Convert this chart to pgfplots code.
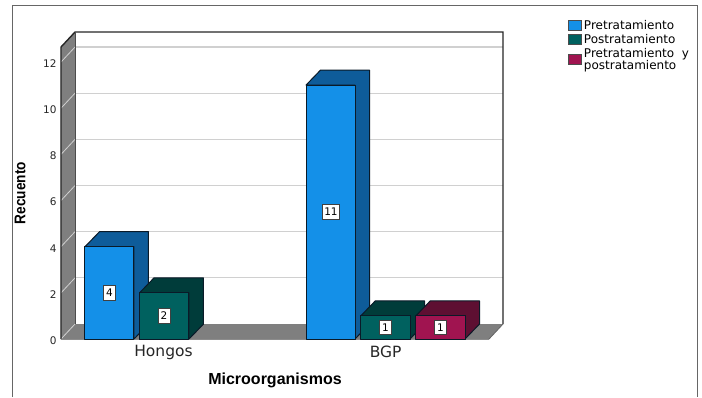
\documentclass[border=0pt]{standalone}
\usepackage{pgfplots}
\pgfplotsset{compat=1.18}
\usepackage{fontspec}
\setmainfont{DejaVu Sans}
\newfontfamily\labelfont{Liberation Sans}
\newfontfamily\narrowfont[FakeStretch=0.88]{Liberation Sans}
\definecolor{blueF}{HTML}{1490E8}
\definecolor{blueD}{HTML}{0E5C9A}
\definecolor{tealF}{HTML}{00615F}
\definecolor{tealD}{HTML}{003C3A}
\definecolor{magF}{HTML}{A01450}
\definecolor{magD}{HTML}{5E0F32}
\definecolor{wall}{HTML}{7F7F7F}
\definecolor{gridc}{HTML}{D0D0D0}
\definecolor{edge}{HTML}{0A1A28}
% One block: left x, right x, value, front colour, side and top colour
\newcommand{\block}[5]{%
  \addplot[forget plot,draw=edge,line width=1pt,fill=#5,line join=round]
    coordinates {(#2,0) (#2+14.5,0.65) (#2+14.5,#3+0.65) (#1+14.5,#3+0.65) (#1,#3) (#2,#3)} -- cycle;
  \addplot[forget plot,draw=edge,line width=1pt,fill=#4,line join=round]
    coordinates {(#1,0) (#2,0) (#2,#3) (#1,#3)} -- cycle;
}
\newcommand{\tag}[3]{%
  \node[draw=black!75,fill=white,line width=0.8pt,inner sep=1.6pt,minimum width=12pt,minimum height=14.5pt,
        font=\fontsize{10.5}{11}\selectfont] at (axis cs:#1,#2) {#3};
}
\begin{document}
\begin{tikzpicture}[x=1pt,y=1pt]
\begin{axis}[
  scale only axis,width=428pt,height=292pt,
  xmin=61,xmax=489,ymin=0,ymax=12.65,
  clip=false,axis line style={draw=none},
  major tick length=0pt,
  xtick={163.5,385.7},xticklabels={Hongos,BGP},
  ytick={0,2,4,6,8,10,12},
  tick label style={text=black!85},
  x tick label style={font=\fontsize{15.5}{17}\selectfont,yshift=-3pt},
  y tick label style={font=\fontsize{10.5}{12}\selectfont,xshift=-1pt,yshift=-1.5pt},
  /pgf/number format/assume math mode=true,
  xlabel={Microorganismos},ylabel={Recuento},
  xlabel style={at={(axis description cs:0.5,-0.14)},anchor=center,
                font=\labelfont\bfseries\fontsize{16}{18}\selectfont},
  ylabel style={at={(axis description cs:-0.0958,0.5)},anchor=center,
                font=\narrowfont\bfseries\fontsize{15.5}{17}\selectfont},
  legend style={at={(axis description cs:1.185,1.095)},anchor=north west,draw=none,fill=none,
                inner sep=0pt,outer sep=0pt,
                font=\fontsize{12}{13}\selectfont,
                row sep=2.2pt,nodes={inner xsep=2.5pt,inner ysep=0.6pt}},
  legend cell align=left,
  legend image code/.code={
    \draw[#1,draw=black!70,line width=0.8pt] (0pt,-5.2pt) rectangle (12.5pt,5.2pt);
  },
]
% page extent and outer frame
\path (axis cs:0,14.688) rectangle (axis cs:702,-2.513);
\draw[black!60,line width=1pt] (axis cs:13,-2.513) -- (axis cs:13,14.47) -- (axis cs:697,14.47) -- (axis cs:697,-2.513);

% back plane, floor and left wall
\addplot[forget plot,draw=none,fill=white] coordinates {(75,0.65) (503,0.65) (503,13.3) (75,13.3)} -- cycle;
\addplot[forget plot,gridc,line width=1.1pt] coordinates {(75,2.65) (503,2.65)};
\addplot[forget plot,gridc,line width=1.1pt] coordinates {(75,4.65) (503,4.65)};
\addplot[forget plot,gridc,line width=1.1pt] coordinates {(75,6.65) (503,6.65)};
\addplot[forget plot,gridc,line width=1.1pt] coordinates {(75,8.65) (503,8.65)};
\addplot[forget plot,gridc,line width=1.1pt] coordinates {(75,10.65) (503,10.65)};
\addplot[forget plot,gridc,line width=1.1pt] coordinates {(75,12.65) (503,12.65)};
\addplot[forget plot,draw=none,fill=wall] coordinates {(61,0) (489,0) (503,0.65) (75,0.65)} -- cycle;
\addplot[forget plot,draw=none,fill=wall] coordinates {(61,0) (75,0.65) (75,13.3) (61,12.65)} -- cycle;
\addplot[forget plot,gridc,line width=0.8pt] coordinates {(61,0) (75,0.65)};
\addplot[forget plot,gridc,line width=0.8pt] coordinates {(61,2) (75,2.65)};
\addplot[forget plot,gridc,line width=0.8pt] coordinates {(61,4) (75,4.65)};
\addplot[forget plot,gridc,line width=0.8pt] coordinates {(61,6) (75,6.65)};
\addplot[forget plot,gridc,line width=0.8pt] coordinates {(61,8) (75,8.65)};
\addplot[forget plot,gridc,line width=0.8pt] coordinates {(61,10) (75,10.65)};
\addplot[forget plot,gridc,line width=0.8pt] coordinates {(61,12) (75,12.65)};
\addplot[forget plot,black!85,line width=1.4pt] coordinates {(61,0) (61,12.65) (75,13.3) (503,13.3) (503,0.65)};
\addplot[forget plot,black!70,line width=0.8pt] coordinates {(75,0.65) (75,13.3)};
\addplot[forget plot,black!60,line width=0.8pt] coordinates {(503,0.65) (489,0)};
\addplot[forget plot,black!45,line width=1pt] coordinates {(61,0) (489,0)};

% Hongos
\block{85}{134}{4}{blueF}{blueD}
\block{139.5}{189}{2}{tealF}{tealD}
% BGP
\block{306}{355}{11}{blueF}{blueD}
\block{360.7}{410}{1}{tealF}{tealD}
\block{415.7}{465}{1}{magF}{magD}

\tag{109.5}{2}{4}
\tag{164}{1}{2}
\tag{331}{5.5}{11}
\tag{385.5}{0.5}{1}
\tag{440.5}{0.5}{1}

\addlegendimage{fill=blueF}
\addlegendentry{Pretratamiento}
\addlegendimage{fill=tealF}
\addlegendentry{Postratamiento}
\addlegendimage{fill=magF}
\addlegendentry{\shortstack[l]{Pretratamiento\ \ y\\[-2.5pt]postratamiento}}
\end{axis}
\end{tikzpicture}
\end{document}
